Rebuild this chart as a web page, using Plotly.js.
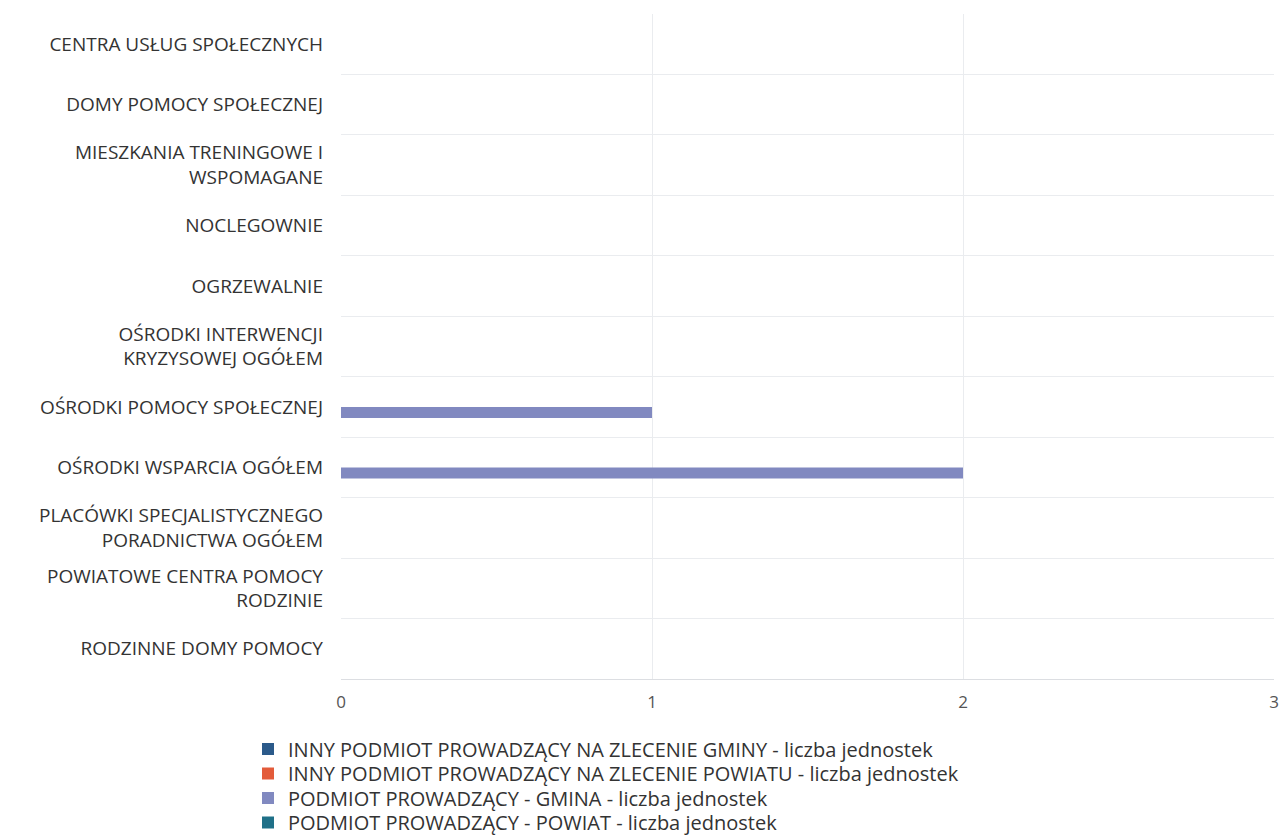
<!DOCTYPE html>
<html>
<head>
<meta charset="utf-8">
<script src="https://cdn.plot.ly/plotly-3.0.1.min.js"></script>
<style>html,body{margin:0;padding:0;background:#fff;}#chart{width:1279px;height:839px;}</style>
</head>
<body>
<div id="chart"></div>
<script>
const categories = [
  "CENTRA USŁUG SPOŁECZNYCH",
  "DOMY POMOCY SPOŁECZNEJ",
  "MIESZKANIA TRENINGOWE I<br>WSPOMAGANE",
  "NOCLEGOWNIE",
  "OGRZEWALNIE",
  "OŚRODKI INTERWENCJI<br>KRYZYSOWEJ OGÓŁEM",
  "OŚRODKI POMOCY SPOŁECZNEJ",
  "OŚRODKI WSPARCIA OGÓŁEM",
  "PLACÓWKI SPECJALISTYCZNEGO<br>PORADNICTWA OGÓŁEM",
  "POWIATOWE CENTRA POMOCY<br>RODZINIE",
  "RODZINNE DOMY POMOCY"
];
const seriesNames = [
  "INNY PODMIOT PROWADZĄCY NA ZLECENIE GMINY - liczba jednostek",
  "INNY PODMIOT PROWADZĄCY NA ZLECENIE POWIATU - liczba jednostek",
  "PODMIOT PROWADZĄCY - GMINA - liczba jednostek",
  "PODMIOT PROWADZĄCY - POWIAT - liczba jednostek"
];
const innyGminy   = [0,0,0,0,0,0,0,0,0,0,0];
const innyPowiatu = [0,0,0,0,0,0,0,0,0,0,0];
const gmina       = [0,0,0,0,0,0,1,2,0,0,0];
const powiat      = [0,0,0,0,0,0,0,0,0,0,0];
const colors = ["#2b5a8a", "#e35b3a", "#8189c0", "#1f7088"];
const xTicks = [0, 1, 2, 3];

const values = [innyGminy, innyPowiatu, gmina, powiat];
const legendIds = ["legend", "legend2", "legend3", "legend4"];

// plot area in pixels (used only to place the legend rows)
const M = {l: 341, r: 5, t: 14, b: 160, autoexpand: false};
const W = 1279, H = 839;
const plotW = W - M.l - M.r, plotH = H - M.t - M.b;
const legendRowsPx = [749, 773.5, 798, 822.5];
const legendLeftPx = 248;

const data = values.map((v, i) => ({
  type: "bar",
  orientation: "h",
  name: seriesNames[i],
  x: v,
  y: categories,
  legend: legendIds[i],
  marker: {color: colors[i]},
  hoverinfo: "x+y"
}));

const layout = {
  width: W,
  height: H,
  paper_bgcolor: "#ffffff",
  plot_bgcolor: "#ffffff",
  font: {family: "Open Sans, sans-serif", color: "#333"},
  margin: M,
  barmode: "group",
  bargap: 0.27,
  bargroupgap: 0,
  xaxis: {
    range: [0, 3],
    tickvals: xTicks,
    ticktext: xTicks.map(String),
    showgrid: true,
    gridcolor: "#eaecef",
    zeroline: false,
    showline: true,
    linecolor: "#dcdee2",
    tickfont: {size: 17, color: "#555"},
    ticks: "outside",
    ticklen: 8,
    tickcolor: "rgba(0,0,0,0)"
  },
  yaxis: {
    type: "category",
    autorange: "reversed",
    tickson: "boundaries",
    showgrid: true,
    gridcolor: "#eaecef",
    zeroline: false,
    showline: false,
    ticks: "",
    ticklabelstandoff: 17,
    tickfont: {size: 19, color: "#333"}
  },
  showlegend: true
};

legendIds.forEach((id, i) => {
  layout[id] = {
    orientation: "v",
    x: (legendLeftPx - M.l) / plotW,
    xanchor: "left",
    y: (H - M.b - legendRowsPx[i]) / plotH,
    yanchor: "middle",
    font: {size: 20, color: "#333"},
    itemwidth: 30,
    borderwidth: 0,
    bgcolor: "rgba(0,0,0,0)"
  };
});

Plotly.newPlot("chart", data, layout, {displayModeBar: false, staticPlot: true});
</script>
</body>
</html>
